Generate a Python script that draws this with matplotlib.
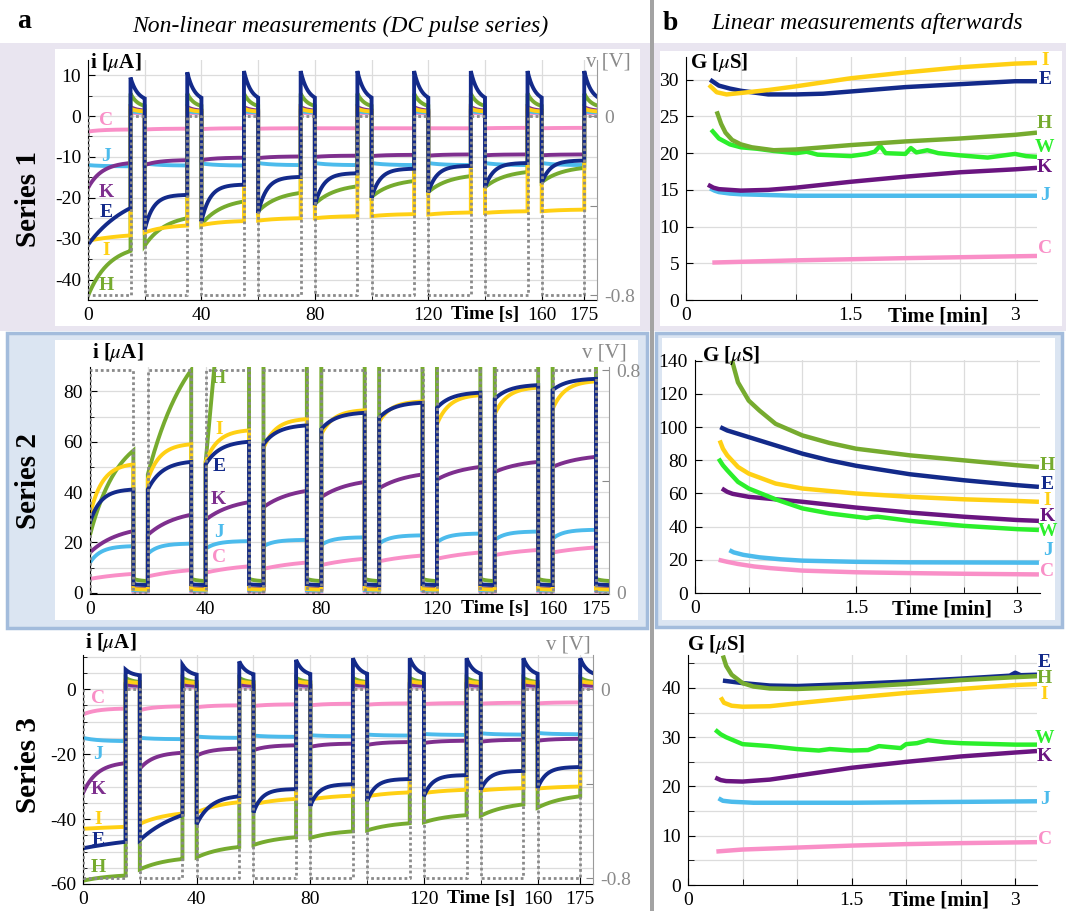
import numpy as np
import matplotlib
matplotlib.use("Agg")
import matplotlib.pyplot as plt
from matplotlib.patches import Rectangle
from matplotlib.ticker import FixedLocator, MultipleLocator

plt.rcParams['font.family'] = ['Liberation Serif', 'DejaVu Serif']
plt.rcParams['mathtext.fontset'] = 'stix'
plt.rcParams['axes.unicode_minus'] = False

W, H = 1066, 911

COLORS = {'C': '#f98fc7', 'J': '#4cbbec', 'K': '#7e2f8e', 'E': '#132a8a',
          'I': '#ffd014', 'H': '#76ab2f', 'W': '#2bef2b'}
K_RIGHT = '#6a1580'

# DC pulse timing (s)
pulse_on = [0, 20, 40, 60, 80, 100, 120, 140, 160]
pulse_off = [15, 35, 55, 75, 95, 115, 135, 155, 175]
t_stop = 179.5

# ---- Series 1, (start, end) current of each pulse [uA] ----
s1_C = [(-3.8, -3.3), (-3.3, -3.1), (-3.2, -3.0), (-3.1, -3.0), (-3.0, -3.0),
        (-3.0, -3.0), (-3.0, -3.0), (-3.0, -2.9), (-3.0, -2.9)]
s1_J = [(-12.0, -12.3), (-11.6, -12.1), (-11.6, -12.1), (-11.5, -12.0), (-11.5, -12.0),
        (-11.5, -12.0), (-11.5, -12.0), (-11.5, -12.0), (-11.5, -12.0)]
s1_K = [(-17.6, -11.5), (-12.0, -10.8), (-10.8, -10.2), (-10.3, -9.9), (-10.0, -9.7),
        (-9.8, -9.5), (-9.7, -9.4), (-9.6, -9.4), (-9.6, -9.4)]
s1_E = [(-31.5, -22.5), (-27.8, -19.3), (-25.8, -16.8), (-23.7, -14.9), (-21.8, -14.0),
        (-20.0, -12.9), (-18.7, -12.2), (-17.5, -11.5), (-16.4, -10.9)]
s1_I = [(-30.5, -29.2), (-28.5, -26.8), (-26.7, -25.7), (-25.6, -25.0), (-25.0, -24.5),
        (-24.5, -24.0), (-24.1, -23.6), (-23.7, -23.3), (-23.3, -22.9)]
s1_H = [(-44.0, -33.0), (-31.7, -25.0), (-26.5, -20.9), (-23.3, -18.8), (-21.5, -17.2),
        (-19.8, -15.9), (-18.6, -14.7), (-17.4, -13.7), (-16.2, -12.7)]
s1_shape = {'C': 3, 'J': 3, 'K': 3, 'E': [1, 5, 5, 5, 5, 5, 5, 5, 5], 'I': [1, 2, 2, 2, 2, 2, 2, 2, 2], 'H': 2}
s1_peak = {'C': 0.8, 'J': 1.2, 'K': 2.2, 'E': [9.4, 10.7, 11, 11, 11, 11, 11, 11, 11], 'I': 1.8, 'H': 5.5}
s1_rest = {'C': 0.6, 'J': 0.8, 'K': 1.2, 'E': 3.5, 'I': 1.0, 'H': 2.0}

# ---- Series 2 ----
s2_C = [(5.5, 7.5), (6.5, 9.0), (8.0, 10.5), (9.5, 12.0), (11.0, 13.5),
        (12.5, 14.8), (13.5, 16.0), (15.0, 17.0), (16.0, 18.0)]
s2_J = [(12.0, 18.5), (15.5, 19.5), (17.5, 20.5), (18.5, 21.0), (19.0, 22.0),
        (19.5, 22.8), (20.0, 23.5), (21.0, 24.3), (21.5, 25.0)]
s2_K = [(16.0, 24.5), (23.0, 31.0), (29.0, 36.0), (34.0, 40.5), (38.0, 44.0),
        (41.5, 47.0), (45.0, 50.0), (48.0, 52.0), (50.0, 54.0)]
s2_E = [(28.0, 41.0), (41.0, 52.0), (51.0, 60.0), (59.0, 66.5), (65.0, 71.5),
        (69.5, 75.5), (73.5, 79.5), (77.0, 82.5), (80.5, 85.0)]
s2_I = [(31.0, 51.0), (45.0, 59.0), (52.0, 64.5), (57.5, 69.0), (63.0, 72.5),
        (68.0, 76.0), (67.0, 78.5), (71.0, 81.5), (73.0, 84.0)]
s2_H = [(23.0, 56.5), (47.0, 88.5), (52.0, 240.0), (95.0, 200.0), (95.0, 200.0),
        (95.0, 200.0), (95.0, 200.0), (95.0, 200.0), (95.0, 200.0)]
s2_shape = {'C': 1, 'J': 4, 'K': 1.5, 'E': [4, 3, 3, 3, 3, 3, 3, 3, 3], 'I': 3.5, 'H': [1.5, 1, 0, 0, 0, 0, 0, 0, 0]}
s2_peak = {'C': 0.5, 'J': 1.0, 'K': 1.8, 'E': 3.4, 'I': 1.5, 'H': 5.5}
s2_rest = {'C': 0.4, 'J': 0.8, 'K': 1.5, 'E': 3.0, 'I': 1.2, 'H': 4.5}

# ---- Series 3 ----
s3_C = [(-7.8, -6.0), (-6.5, -5.3), (-5.6, -5.0), (-5.2, -4.7), (-5.0, -4.5),
        (-4.8, -4.4), (-4.6, -4.3), (-4.5, -4.2), (-4.4, -4.1)]
s3_J = [(-15.0, -16.0), (-15.0, -15.4), (-14.6, -15.0), (-14.3, -14.7), (-14.2, -14.5),
        (-14.0, -14.3), (-13.8, -14.1), (-13.6, -14.0), (-13.5, -13.9)]
s3_K = [(-32.0, -22.8), (-24.5, -19.6), (-20.5, -18.3), (-18.8, -17.3), (-17.8, -16.8),
        (-17.2, -16.3), (-16.6, -15.9), (-16.2, -15.6), (-15.9, -15.3)]
s3_E = [(-49.0, -47.0), (-46.5, -38.8), (-41.6, -33.0), (-38.0, -30.8), (-36.0, -29.3),
        (-34.5, -27.7), (-33.0, -26.5), (-31.0, -25.2), (-30.5, -24.0)]
s3_I = [(-43.0, -42.4), (-41.5, -38.3), (-38.0, -34.8), (-35.5, -33.8), (-34.0, -32.8),
        (-33.0, -31.8), (-32.0, -31.0), (-31.2, -30.5), (-30.6, -30.0)]
s3_H = [(-59.0, -57.4), (-55.5, -52.3), (-51.8, -48.6), (-48.0, -45.6), (-45.8, -43.8),
        (-43.5, -41.3), (-41.0, -38.8), (-39.0, -35.5), (-36.5, -33.0)]
s3_shape = {'C': 3, 'J': 3, 'K': 3, 'E': [0.5, 1, 3, 5, 5, 5, 5, 5, 5], 'I': [0.5, 1.5, 1.5, 1.5, 1.5, 1.5, 1.5, 1.5, 1.5], 'H': 1.5}
s3_peak = {'C': 0.8, 'J': 1.2, 'K': 1.5, 'E': [6, 7.5, 8.5, 9, 9.5, 9.5, 9.5, 9.5, 9.5], 'I': 2.5, 'H': 3.5}
s3_rest = {'C': 0.6, 'J': 1.0, 'K': 1.0, 'E': 4.0, 'I': 1.8, 'H': 2.0}

# ---- Linear measurements afterwards: (time [min], G [uS]) ----
r1_I = [(0.21, 29.3), (0.28, 28.3), (0.37, 28.0), (0.5, 28.2), (0.75, 28.6), (1.0, 29.1),
        (1.5, 30.2), (2.0, 31.0), (2.5, 31.7), (3.0, 32.2), (3.2, 32.3)]
r1_E = [(0.22, 30.0), (0.3, 29.2), (0.4, 28.8), (0.5, 28.5), (0.75, 28.0), (1.0, 28.0),
        (1.25, 28.1), (1.5, 28.4), (2.0, 29.0), (2.5, 29.4), (3.0, 29.8), (3.2, 29.8)]
r1_H = [(0.28, 25.7), (0.32, 24.0), (0.36, 22.8), (0.42, 21.8), (0.5, 21.2), (0.6, 20.8),
        (0.8, 20.4), (1.0, 20.5), (1.5, 21.1), (2.0, 21.6), (2.5, 22.0), (3.0, 22.5), (3.2, 22.8)]
r1_W = [(0.23, 23.2), (0.3, 22.0), (0.4, 21.2), (0.5, 20.8), (0.65, 20.6), (0.8, 20.3),
        (1.0, 20.0), (1.1, 20.2), (1.2, 19.8), (1.5, 19.6), (1.65, 19.9), (1.72, 20.2),
        (1.77, 21.0), (1.82, 20.0), (2.0, 19.9), (2.05, 20.7), (2.1, 20.1), (2.2, 20.4),
        (2.3, 20.0), (2.5, 19.7), (2.75, 19.4), (2.9, 19.7), (3.0, 19.9), (3.1, 19.6), (3.2, 19.5)]
r1_K = [(0.2, 15.7), (0.25, 15.3), (0.3, 15.1), (0.5, 14.9), (0.75, 15.0), (1.0, 15.3),
        (1.5, 16.1), (2.0, 16.8), (2.5, 17.4), (3.0, 17.8), (3.2, 18.0)]
r1_J = [(0.22, 15.2), (0.26, 14.9), (0.3, 14.7), (0.4, 14.5), (0.5, 14.4), (0.75, 14.3),
        (1.0, 14.2), (3.2, 14.2)]
r1_C = [(0.24, 5.1), (1.0, 5.4), (2.0, 5.7), (3.2, 6.0)]

r2_H = [(0.345, 140), (0.4, 127), (0.5, 116), (0.6, 110), (0.75, 102), (1.0, 95),
        (1.25, 90.5), (1.5, 87), (2.0, 83), (2.5, 80), (3.0, 77), (3.2, 76)]
r2_E = [(0.235, 100), (0.3, 98), (0.5, 94), (0.75, 89), (1.0, 84), (1.25, 80),
        (1.5, 76.7), (2.0, 71.6), (2.5, 68), (3.0, 65), (3.2, 64)]
r2_I = [(0.23, 92), (0.26, 87), (0.3, 83), (0.4, 76), (0.5, 72), (0.75, 66), (1.0, 63),
        (1.5, 60), (2.0, 58), (2.5, 56.5), (3.0, 55.5), (3.2, 55)]
r2_W = [(0.22, 81), (0.26, 77), (0.3, 74), (0.4, 67), (0.5, 63), (0.75, 56.5), (1.0, 51),
        (1.25, 48), (1.5, 46), (1.6, 45.2), (1.65, 45.8), (1.7, 46), (2.0, 43.5),
        (2.5, 40.5), (3.0, 38.5), (3.2, 38)]
r2_K = [(0.25, 63), (0.3, 61), (0.35, 59.8), (0.5, 58), (0.75, 56.5), (1.0, 55),
        (1.5, 51.5), (2.0, 48.5), (2.5, 46), (3.0, 44), (3.2, 43.5)]
r2_J = [(0.32, 25.8), (0.36, 24.5), (0.45, 23), (0.6, 21.5), (0.8, 20.3), (1.0, 19.5),
        (1.5, 18.8), (2.0, 18.5), (3.2, 18.3)]
r2_C = [(0.22, 20), (0.3, 18.8), (0.4, 17.5), (0.55, 16), (0.7, 15), (1.0, 13.5),
        (1.5, 12.5), (2.0, 12), (2.5, 11.6), (3.2, 11.2)]

r3_H = [(0.32, 46.6), (0.35, 44.5), (0.4, 42.7), (0.5, 41.0), (0.6, 40.3), (0.75, 39.9),
        (1.0, 39.8), (1.5, 40.2), (2.0, 40.8), (2.5, 41.6), (3.0, 42.2), (3.2, 42.4)]
r3_E = [(0.32, 41.5), (0.5, 41.0), (0.75, 40.5), (1.0, 40.4), (1.5, 40.8), (2.0, 41.3),
        (2.5, 41.9), (2.95, 42.5), (3.0, 43.1), (3.05, 42.6), (3.2, 42.7)]
r3_I = [(0.3, 38.1), (0.33, 37.0), (0.4, 36.4), (0.5, 36.2), (0.75, 36.3), (1.0, 36.9),
        (1.5, 38.0), (2.0, 39.0), (2.5, 39.8), (3.0, 40.6), (3.2, 40.8)]
r3_W = [(0.25, 31.5), (0.3, 30.6), (0.35, 30.0), (0.5, 28.6), (0.75, 28.2), (1.0, 27.6),
        (1.2, 27.3), (1.3, 27.6), (1.5, 27.3), (1.65, 27.4), (1.75, 28.2), (1.95, 27.8),
        (2.0, 28.6), (2.1, 28.8), (2.2, 29.4), (2.35, 29.0), (2.5, 28.8), (3.0, 28.5), (3.2, 28.5)]
r3_K = [(0.25, 21.8), (0.3, 21.3), (0.35, 21.1), (0.5, 21.0), (0.75, 21.4), (1.0, 22.2),
        (1.5, 23.8), (2.0, 25.0), (2.5, 26.1), (3.0, 26.9), (3.2, 27.2)]
r3_J = [(0.28, 17.6), (0.32, 17.1), (0.4, 16.9), (0.6, 16.7), (1.5, 16.7), (3.2, 17.0)]
r3_C = [(0.26, 6.8), (0.5, 7.2), (1.0, 7.6), (1.5, 8.0), (2.0, 8.3), (2.5, 8.5), (3.2, 8.7)]

# label positions (left: current at t = lab_t; right: G at the end of each curve)
s1_lab = {'C': -1.0, 'J': -10.0, 'K': -18.7, 'E': -23.5, 'I': -32.8, 'H': -41.5}
s2_lab = {'H': 85, 'I': 65, 'E': 50, 'K': 37, 'J': 24, 'C': 14}
s3_lab = {'C': -3, 'J': -20, 'K': -31, 'I': -40, 'E': -46.5, 'H': -55}
r1_lab = {'I': 32.6, 'E': 30.0, 'H': 24.0, 'W': 20.8, 'K': 18.1, 'J': 14.3, 'C': 7.0}
r2_lab = {'H': 77, 'E': 65.4, 'I': 56, 'K': 46.3, 'W': 37.2, 'J': 25.8, 'C': 12.7}
r3_lab = {'E': 45.2, 'H': 42.0, 'I': 38.6, 'W': 29.8, 'K': 26.0, 'J': 17.3, 'C': 9.2}


def pulse_trace(segs, k, peak, rest, tau=2.5):
    n = len(segs)
    k = np.broadcast_to(np.atleast_1d(np.asarray(k, float)), (n,))
    peak = np.broadcast_to(np.atleast_1d(np.asarray(peak, float)), (n,))
    ts, ys = [], []
    for j, ((a, b), t0, t1) in enumerate(zip(segs, pulse_on, pulse_off)):
        x = np.linspace(0, 1, 80)
        f = x if k[j] == 0 else (1 - np.exp(-k[j] * x)) / (1 - np.exp(-k[j]))
        ts.append(t0 + x * (t1 - t0))
        ys.append(a + (b - a) * f)
        t_next = pulse_on[j + 1] if j + 1 < n else t_stop
        dt = np.linspace(0, t_next - t1, 40)
        ts.append(t1 + dt)
        ys.append(rest + (peak[j] - rest) * np.exp(-dt / tau))
    return np.concatenate(ts), np.concatenate(ys)


def voltage_trace(von):
    t, v = [], []
    for t0, t1 in zip(pulse_on, pulse_off):
        t += [t0, t0, t1, t1]
        v += [0.0, von, von, 0.0]
    t.append(t_stop)
    v.append(0.0)
    return t, v


fig = plt.figure(figsize=(W / 100, H / 100), dpi=100)

# background boxes in pixel coordinates
bg = fig.add_axes([0, 0, 1, 1], zorder=-10)
bg.set_xlim(0, W)
bg.set_ylim(H, 0)
bg.axis('off')


def box(x0, y0, x1, y1, fc, ec='none', lw=0):
    bg.add_patch(Rectangle((x0, y0), x1 - x0, y1 - y0, facecolor=fc, edgecolor=ec, linewidth=lw))


box(0, 43, W, 331, '#e9e5f0')
box(55, 49, 640, 326, 'white')
box(660, 51, 1062, 326, 'white')
box(7, 333, 647, 628, '#dbe5f2', '#a3bcdc', 2.5)
box(656, 333, 1062, 627, '#dbe5f2', '#a3bcdc', 2.5)
box(55, 340, 638, 620, 'white')
box(662, 338, 1055, 620, 'white')
box(650, 0, 654, H, '#a3a3a3')


def px_axes(x0, y0, x1, y1):
    return fig.add_axes([x0 / W, 1 - y1 / H, (x1 - x0) / W, (y1 - y0) / H])


def ftext(x, y, s, **kw):
    fig.text(x / W, 1 - y / H, s, **kw)


def pulse_panel(rect, segs, shape, peak, rest, ylim, i_at_v, von, ymajor, yminor, labels, lab_t):
    ax = px_axes(*rect)
    ax.set_facecolor('none')
    for name in ['C', 'J', 'K', 'H', 'I', 'E']:
        t, y = pulse_trace(segs[name], shape[name], peak[name], rest[name])
        ax.plot(t, y, color=COLORS[name], lw=2.8, solid_joinstyle='miter')
        ax.text(lab_t, labels[name], name, color=COLORS[name], fontsize=14,
                fontweight='bold', ha='center', va='center')
    ax.set_xlim(0, t_stop)
    ax.set_ylim(*ylim)
    ax.set_xticks([0, 40, 80, 120, 160, 175])
    ax.xaxis.set_minor_locator(FixedLocator([20, 60, 100, 140]))
    ax.yaxis.set_major_locator(MultipleLocator(ymajor))
    ax.yaxis.set_minor_locator(MultipleLocator(yminor))
    ax.grid(True, which='both', color='#dcdcdc', lw=0.9)
    ax.set_axisbelow(True)
    ax.tick_params(which='both', direction='in', labelsize=14, pad=5)
    ax.tick_params(which='major', length=5)
    ax.tick_params(which='minor', length=3)
    ax.spines['top'].set_visible(False)
    ax.spines['right'].set_visible(False)
    ax.text(140, -0.026, 'Time [s]', transform=ax.get_xaxis_transform(), fontsize=14,
            fontweight='bold', ha='center', va='top')

    axv = ax.twinx()
    scale = von / i_at_v
    axv.set_ylim(ylim[0] * scale, ylim[1] * scale)
    vt, vv = voltage_trace(von)
    axv.plot(vt, vv, color='#8a8a8a', lw=2.0, ls=(0, (1.0, 1.0)))
    axv.set_yticks([0, von / 2, von])
    axv.set_yticklabels(['0', '', f'{von:g}'])
    axv.tick_params(direction='in', labelsize=14, colors='#8a8a8a', length=5, pad=5)
    for s in ['top', 'left', 'bottom']:
        axv.spines[s].set_visible(False)
    axv.spines['right'].set_color('#9a9a9a')
    return ax


def g_panel(rect, curves, labels, ylim, xmax, ymajor, yminor, order):
    ax = px_axes(*rect)
    ax.set_facecolor('none')
    for name in order:
        pts = np.array(curves[name])
        col = K_RIGHT if name == 'K' else COLORS[name]
        ax.plot(pts[:, 0], pts[:, 1], color=col, lw=3.2, solid_capstyle='butt')
        ax.text(xmax + 0.07, labels[name], name, color=col, fontsize=14,
                fontweight='bold', ha='center', va='center', clip_on=False)
    ax.set_xlim(0, xmax)
    ax.set_ylim(*ylim)
    ax.set_xticks([0, 1.5, 3])
    ax.set_xticklabels(['0', '1.5', '3'])
    ax.xaxis.set_minor_locator(FixedLocator([0.5, 1.0, 2.0, 2.5]))
    ax.yaxis.set_major_locator(MultipleLocator(ymajor))
    ax.yaxis.set_minor_locator(MultipleLocator(yminor))
    ax.grid(True, which='both', color='#dcdcdc', lw=0.9)
    ax.set_axisbelow(True)
    ax.tick_params(which='both', direction='in', labelsize=14, pad=5)
    ax.tick_params(which='major', length=5)
    ax.tick_params(which='minor', length=4)
    ax.spines['top'].set_visible(False)
    ax.spines['right'].set_visible(False)
    ax.text(2.3, -0.026, 'Time [min]', transform=ax.get_xaxis_transform(), fontsize=15,
            fontweight='bold', ha='center', va='top')
    return ax


S1 = {'C': s1_C, 'J': s1_J, 'K': s1_K, 'E': s1_E, 'I': s1_I, 'H': s1_H}
S2 = {'C': s2_C, 'J': s2_J, 'K': s2_K, 'E': s2_E, 'I': s2_I, 'H': s2_H}
S3 = {'C': s3_C, 'J': s3_J, 'K': s3_K, 'E': s3_E, 'I': s3_I, 'H': s3_H}

pulse_panel((88, 60, 597, 300), S1, s1_shape, s1_peak, s1_rest, (-45, 13.7), -43.8, -0.8, 10, 5, s1_lab, 6.5)
pulse_panel((90, 367, 609, 594), S2, s2_shape, s2_peak, s2_rest, (-0.5, 89.7), 88.5, 0.8, 20, 10, s2_lab, 44.5)
pulse_panel((83, 655, 593, 884), S3, s3_shape, s3_peak, s3_rest, (-60, 10.5), -58.2, -0.8, 20, 5, s3_lab, 5.3)

R1 = {'I': r1_I, 'E': r1_E, 'H': r1_H, 'W': r1_W, 'K': r1_K, 'J': r1_J, 'C': r1_C}
R2 = {'I': r2_I, 'E': r2_E, 'H': r2_H, 'W': r2_W, 'K': r2_K, 'J': r2_J, 'C': r2_C}
R3 = {'I': r3_I, 'E': r3_E, 'H': r3_H, 'W': r3_W, 'K': r3_K, 'J': r3_J, 'C': r3_C}

g_panel((686, 57, 1037, 300), R1, r1_lab, (0, 33.1), 3.2, 5, 5, ['C', 'J', 'K', 'W', 'H', 'E', 'I'])
g_panel((695, 360, 1040, 593), R2, r2_lab, (0, 140.5), 3.21, 20, 20, ['C', 'J', 'K', 'W', 'I', 'E', 'H'])
g_panel((688, 655, 1037, 885), R3, r3_lab, (0, 46.7), 3.2, 10, 5, ['C', 'J', 'K', 'W', 'I', 'E', 'H'])

# axis titles
for x, y in [(90, 63), (92, 353), (85, 643)]:
    ftext(x, y, r'i [$\mu$A]', fontsize=15, fontweight='bold', ha='left', va='center')
for x, y in [(631, 62), (627, 353), (591, 645)]:
    ftext(x, y, 'v [V]', fontsize=15, color='#8a8a8a', ha='right', va='center')
for x, y in [(690, 62), (702, 355), (687, 645)]:
    ftext(x, y, r'G [$\mu$S]', fontsize=15, fontweight='bold', ha='left', va='center')

# headers and row labels
ftext(24, 22, 'a', fontsize=20, fontweight='bold', ha='center', va='center')
ftext(340, 26, 'Non-linear measurements (DC pulse series)', fontsize=17, style='italic',
      ha='center', va='center')
ftext(670, 23, 'b', fontsize=20, fontweight='bold', ha='center', va='center')
ftext(867, 23, 'Linear measurements afterwards', fontsize=17, style='italic',
      ha='center', va='center')
for y, s in [(199, 'Series 1'), (481, 'Series 2'), (765, 'Series 3')]:
    ftext(28, y, s, fontsize=21, fontweight='bold', rotation=90, ha='center', va='center')

fig.savefig('out.png', dpi=100)
